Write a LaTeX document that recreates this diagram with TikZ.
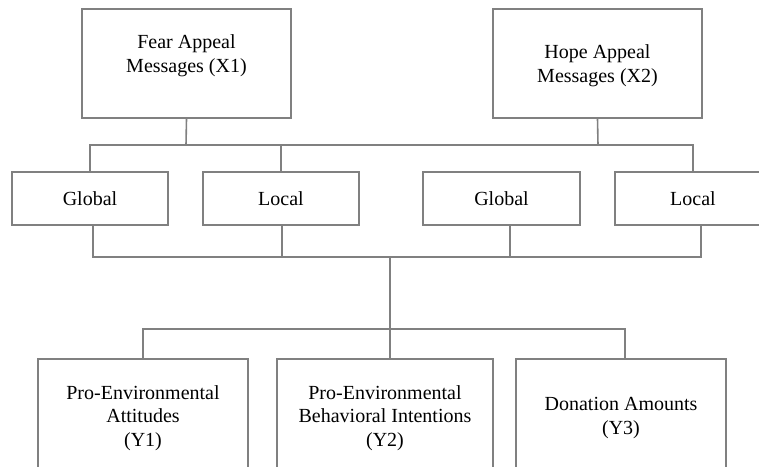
\documentclass[tikz,border=0pt]{standalone}
\usepackage{fontspec}
\setmainfont{Liberation Serif}
\usepackage{tikz}

\begin{document}
\begin{tikzpicture}[x=1pt,y=-1pt,
  box/.style={draw=gray,line width=1.6pt,fill=white,inner sep=0pt},
  txt/.style={align=center,font=\fontsize{20}{23.5}\selectfont},
  wire/.style={draw=gray,line width=1.6pt}]

  \useasboundingbox (0,0) rectangle (759,466);

  % message types
  \node[box,minimum width=209,minimum height=109] (fear) at (186.5,63.5) {};
  \node[box,minimum width=209,minimum height=109] (hope) at (597.5,63.5) {};
  \node[txt] (feartxt) at (186.5,55.5) {Fear Appeal\\Messages (X1)};
  \node[txt] (hopetxt) at (597.5,65.5) {Hope Appeal\\Messages (X2)};

  % framing
  \node[box,txt,minimum width=156,minimum height=53] (glob1) at (90,198.5) {Global};
  \node[box,txt,minimum width=156,minimum height=53] (loc1) at (281,198.5) {Local};
  \node[box,txt,minimum width=157,minimum height=53] (glob2) at (501.5,198.5) {Global};
  \node[box,txt,minimum width=156,minimum height=53] (loc2) at (693,198.5) {Local};

  % outcomes
  \node[box,txt,minimum width=210,minimum height=118] (y1) at (143,418) {Pro-Environmental\\Attitudes\\(Y1)};
  \node[box,txt,minimum width=216,minimum height=118] (y2) at (385,418) {Pro-Environmental\\Behavioral Intentions\\(Y2)};
  \node[box,txt,minimum width=210,minimum height=118] (y3) at (621,418) {Donation Amounts\\(Y3)};

  \coordinate (fsplit) at (186,145);
  \coordinate (hsplit) at (598,145);
  \coordinate (hub) at (390,257);
  \coordinate (osplit) at (390,329);

  \draw[wire] (fear.south) -- (fsplit);
  \draw[wire] (hope.south) -- (hsplit);
  \draw[wire] (glob1.north) |- (hsplit);
  \draw[wire] (loc1.north) |- (fsplit);
  \draw[wire] (loc2.north) |- (hsplit);

  \draw[wire] ([xshift=3pt]glob1.south) |- (hub);
  \draw[wire] ([xshift=1pt]loc1.south) |- (hub);
  \draw[wire] ([xshift=8.5pt]glob2.south) |- (hub);
  \draw[wire] ([xshift=8pt]loc2.south) |- (hub);
  \draw[wire] (hub) -- (osplit);

  \draw[wire] (y1.north) |- (osplit);
  \draw[wire] ([xshift=5pt]y2.north) -- (osplit);
  \draw[wire] ([xshift=4pt]y3.north) |- (osplit);

\end{tikzpicture}
\end{document}
